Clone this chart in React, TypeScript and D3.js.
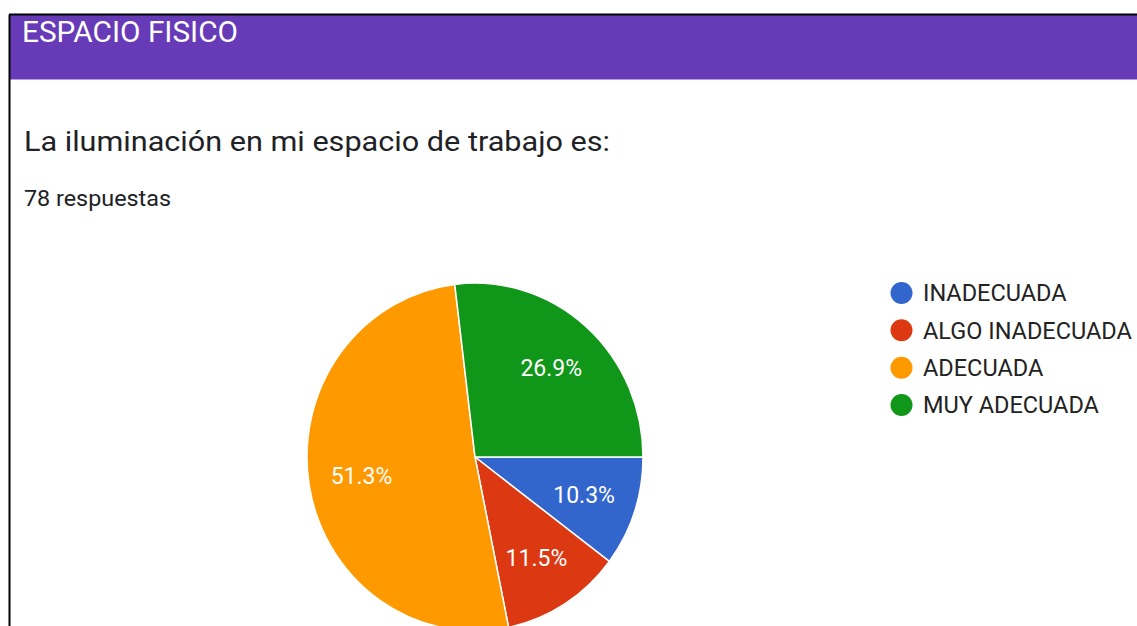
import React from "react";
import * as d3 from "d3";

const categories = ["INADECUADA", "ALGO INADECUADA", "ADECUADA", "MUY ADECUADA"];
const counts = [8, 9, 40, 21];
const colors = ["#3366CC", "#DC3912", "#FF9900", "#109618"];
const header = "ESPACIO FISICO";
const question = "La iluminación en mi espacio de trabajo es:";
const responses = "78 respuestas";

export default function App() {
  const W = 1137, H = 626;
  const cx = 475, cy = 457, r = 168, sy = 1.035;
  const total = d3.sum(counts);
  const pie = d3.pie<number>().sort(null).startAngle(Math.PI / 2).endAngle(Math.PI / 2 + 2 * Math.PI);
  const arcs = pie(counts);
  const arc = d3.arc<d3.PieArcDatum<number>>().innerRadius(0).outerRadius(r);
  const labelArc = d3.arc<d3.PieArcDatum<number>>().innerRadius(115).outerRadius(115);
  const fmt = d3.format(".1%");
  const font = "Roboto, Arial, sans-serif";
  const legendY = d3.scalePoint<string>().domain(categories).range([293, 405]);
  return (
    <svg width={W} height={H} style={{ position: "absolute", left: 0, top: 0 }} fontFamily={font}>
      <rect x={0} y={0} width={W} height={H} fill="#fff" />
      <rect x={10} y={15} width={W - 10} height={64} fill="#673AB7" />
      <rect x={10} y={79} width={W - 10} height={1} fill="#B39DDB" />
      <line x1={9.5} y1={14.5} x2={9.5} y2={H} stroke="#000" strokeWidth={2} />
      <line x1={9} y1={14.5} x2={W} y2={14.5} stroke="#000" strokeWidth={2} />
      <text x={22} y={41.5} fill="#fff" fontSize={30} textLength={216} lengthAdjust="spacingAndGlyphs">{header}</text>
      <text x={24} y={151} fill="#202124" fontSize={28.5} textLength={586} lengthAdjust="spacingAndGlyphs">{question}</text>
      <text x={24} y={205.5} fill="#202124" fontSize={22} textLength={147} lengthAdjust="spacingAndGlyphs">{responses}</text>
      <g transform={`translate(${cx},${cy}) scale(1,${sy})`}>
        {arcs.map((a, i) => (
          <path key={i} d={arc(a) || ""} fill={colors[i]} stroke="#fff" strokeWidth={1.5} />
        ))}
      </g>
      <g transform={`translate(${cx},${cy})`}>
        {arcs.map((a, i) => {
          const [x, y] = labelArc.centroid(a);
          return (
            <text key={i} x={x} y={y * sy} dy="0.36em" textAnchor="middle" fill="#fff" fontSize={23}>
              {fmt(counts[i] / total)}
            </text>
          );
        })}
      </g>
      {categories.map((c, i) => (
        <g key={c}>
          <circle cx={901.5} cy={legendY(c)} r={11} fill={colors[i]} />
          <text x={923} y={legendY(c)} dy="0.36em" fontSize={23.5} fill="#222">{c}</text>
        </g>
      ))}
    </svg>
  );
}
